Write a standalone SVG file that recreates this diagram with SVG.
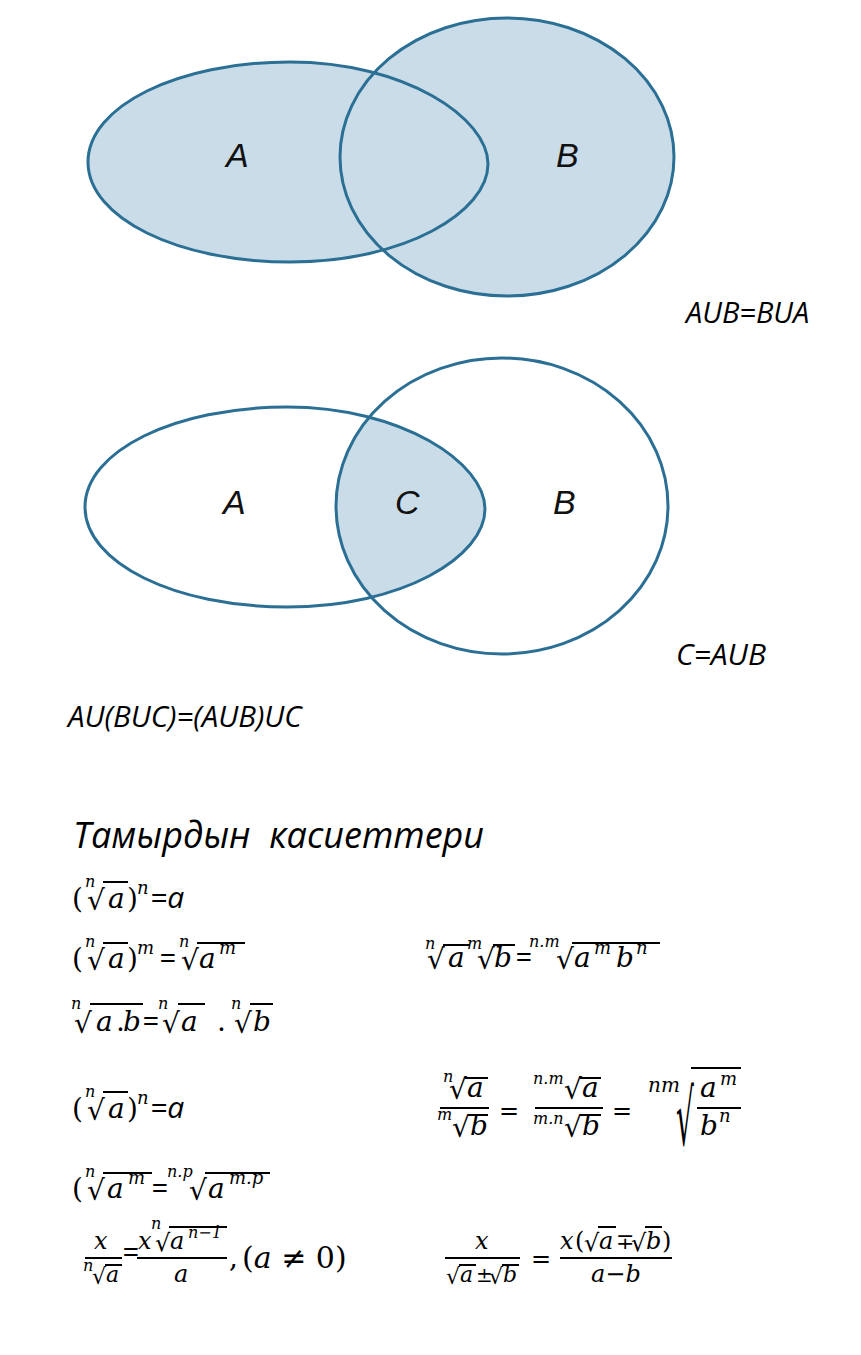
<svg xmlns="http://www.w3.org/2000/svg" width="861" height="1355" viewBox="0 0 861 1355">
<style>
.fill{fill:#c9dce8}
.edge{fill:none;stroke:#2b6f95;stroke-width:3}
.lbl{font-family:"Liberation Sans",Arial,sans-serif;font-style:italic;font-size:34px;fill:#111}
.cap{font-family:"Open Sans","Noto Sans",sans-serif;font-style:italic;font-size:29px;fill:#000}
.title{font-family:"Open Sans","Noto Sans",sans-serif;font-style:italic;font-size:36px;fill:#000;white-space:pre}
.m{font-family:"DejaVu Serif",serif;font-style:italic;font-size:28px;fill:#000}
.n{font-family:"DejaVu Serif",serif;font-size:28px;fill:#000}
.i{font-family:"DejaVu Serif",serif;font-style:italic;font-size:16px;fill:#000}
.s{font-family:"DejaVu Serif",serif;font-style:italic;font-size:18px;fill:#000}
.rt{font-family:"DejaVu Serif",serif;font-size:28px;fill:#000}
.ov{stroke:#000;stroke-width:2}
</style>
<defs>
<clipPath id="clipB2"><ellipse cx="502" cy="506" rx="166" ry="148"/></clipPath>
</defs>
<rect width="861" height="1355" fill="#fff"/>

<!-- Venn 1 -->
<g id="venn1-fills">
<path class="fill" d="M88,162 C88,106 178,62 290,62 C405,62 488,118 488,164 C488,212 405,262 290,262 C178,262 88,218 88,162 Z"/>
<ellipse class="fill" cx="507" cy="157" rx="167" ry="139"/>
</g>
<g id="venn1-A">
<path class="edge" d="M88,162 C88,106 178,62 290,62 C405,62 488,118 488,164 C488,212 405,262 290,262 C178,262 88,218 88,162 Z"/>
<text class="lbl" x="226" y="167">A</text>
</g>
<g id="venn1-B">
<ellipse class="edge" cx="507" cy="157" rx="167" ry="139"/>
<text class="lbl" x="556" y="167">B</text>
</g>
<text class="cap" x="686" y="323">AUB=BUA</text>

<!-- Venn 2 -->
<g id="venn2-C">
<path class="fill" clip-path="url(#clipB2)" d="M85,507 C85,451 175,407 287,407 C402,407 485,463 485,509 C485,557 402,607 287,607 C175,607 85,563 85,507 Z"/>
<text class="lbl" x="395" y="514">C</text>
</g>
<g id="venn2-A">
<path class="edge" d="M85,507 C85,451 175,407 287,407 C402,407 485,463 485,509 C485,557 402,607 287,607 C175,607 85,563 85,507 Z"/>
<text class="lbl" x="223" y="514">A</text>
</g>
<g id="venn2-B">
<ellipse class="edge" cx="502" cy="506" rx="166" ry="148"/>
<text class="lbl" x="553" y="514">B</text>
</g>
<text class="cap" x="676" y="665" style="font-size:30px">C=AUB</text>
<text class="cap" x="68" y="727" style="font-size:29.5px">AU(BUC)=(AUB)UC</text>

<text class="title" x="73" y="848" xml:space="preserve">Тамырдын  касиеттери</text>

<!-- line 1 -->
<g id="f1">
<text class="n" x="72" y="908">(</text>
<text class="i" x="85" y="887">n</text>
<text class="rt" x="87" y="910">√</text>
<line class="ov" x1="103" y1="882" x2="128" y2="882"/>
<text class="m" x="108" y="908">a</text>
<text class="n" x="127" y="908">)</text>
<text class="s" x="137" y="894">n</text>
<text class="cap" x="150" y="908" style="font-size:30px">=a</text>
</g>

<!-- line 2 left -->
<g id="f2">
<text class="n" x="72" y="968">(</text>
<text class="i" x="85" y="947">n</text>
<text class="rt" x="87" y="970">√</text>
<line class="ov" x1="103" y1="943" x2="128" y2="943"/>
<text class="m" x="108" y="968">a</text>
<text class="n" x="127" y="968">)</text>
<text class="s" x="137" y="954">m</text>
<text class="cap" x="159" y="968">=</text>
<text class="i" x="179" y="947">n</text>
<text class="rt" x="181" y="970">√</text>
<line class="ov" x1="197" y1="943" x2="245" y2="943"/>
<text class="m" x="199" y="968">a</text>
<text class="s" x="219" y="954">m</text>
</g>

<!-- line 2 right -->
<g id="f3">
<text class="i" x="425" y="949">n</text>
<text class="rt" x="427" y="969">√</text>
<line class="ov" x1="443" y1="945" x2="470" y2="945"/>
<text class="m" x="448" y="967">a</text>
<text class="i" x="467" y="949">m</text>
<text class="rt" x="477" y="969">√</text>
<line class="ov" x1="493" y1="945" x2="515" y2="945"/>
<text class="m" x="494" y="967">b</text>
<text class="cap" x="515" y="967">=</text>
<text class="i" x="529" y="947">n.m</text>
<text class="rt" x="556" y="969">√</text>
<line class="ov" x1="572" y1="943" x2="660" y2="943"/>
<text class="m" x="574" y="967">a</text>
<text class="s" x="594" y="954">m</text>
<text class="m" x="616" y="967">b</text>
<text class="s" x="636" y="954">n</text>
</g>

<!-- line 3 -->
<g id="f4">
<text class="i" x="71" y="1009">n</text>
<text class="rt" x="74" y="1033">√</text>
<line class="ov" x1="90" y1="1004" x2="143" y2="1004"/>
<text class="m" x="96" y="1031">a</text>
<text class="n" x="116" y="1031">.</text>
<text class="m" x="123" y="1031">b</text>
<text class="cap" x="142" y="1031">=</text>
<text class="i" x="158" y="1009">n</text>
<text class="rt" x="162" y="1033">√</text>
<line class="ov" x1="178" y1="1004" x2="205" y2="1004"/>
<text class="m" x="181" y="1031">a</text>
<text class="n" x="217" y="1031">.</text>
<text class="i" x="231" y="1009">n</text>
<text class="rt" x="234" y="1033">√</text>
<line class="ov" x1="250" y1="1004" x2="273" y2="1004"/>
<text class="m" x="253" y="1031">b</text>
</g>

<!-- line 4 left -->
<g id="f5">
<text class="n" x="72" y="1118">(</text>
<text class="i" x="85" y="1097">n</text>
<text class="rt" x="87" y="1120">√</text>
<line class="ov" x1="103" y1="1092" x2="128" y2="1092"/>
<text class="m" x="108" y="1118">a</text>
<text class="n" x="127" y="1118">)</text>
<text class="s" x="137" y="1104">n</text>
<text class="cap" x="150" y="1118" style="font-size:30px">=a</text>
</g>

<!-- line 4 right -->
<g id="f6">
<text class="i" x="443" y="1082">n</text>
<text class="rt" x="449" y="1099">√</text>
<line class="ov" x1="465" y1="1078" x2="488" y2="1078"/>
<text class="m" x="467" y="1097">a</text>
<line class="ov" x1="440" y1="1108" x2="489" y2="1108"/>
<text class="i" x="437" y="1120">m</text>
<text class="rt" x="452" y="1137">√</text>
<line class="ov" x1="468" y1="1115" x2="488" y2="1115"/>
<text class="m" x="470" y="1135">b</text>
<text class="n" x="499" y="1119" style="font-size:24px">=</text>
<text class="i" x="533" y="1084">n.m</text>
<text class="rt" x="564" y="1099">√</text>
<line class="ov" x1="580" y1="1078" x2="601" y2="1078"/>
<text class="m" x="582" y="1097">a</text>
<line class="ov" x1="535" y1="1108" x2="603" y2="1108"/>
<text class="i" x="533" y="1124">m.n</text>
<text class="rt" x="564" y="1137">√</text>
<line class="ov" x1="580" y1="1115" x2="601" y2="1115"/>
<text class="m" x="582" y="1135">b</text>
<text class="n" x="612" y="1119" style="font-size:24px">=</text>
<text class="i" x="648" y="1092" style="font-size:20px">nm</text>
<text class="rt" transform="translate(676,1145) scale(1,2.75)">√</text>
<line class="ov" x1="691" y1="1068" x2="741" y2="1068"/>
<text class="m" x="700" y="1097">a</text>
<text class="s" x="720" y="1085">m</text>
<line class="ov" x1="697" y1="1108" x2="741" y2="1108"/>
<text class="m" x="700" y="1135">b</text>
<text class="s" x="719" y="1122">n</text>
</g>

<!-- line 5 -->
<g id="f7">
<text class="n" x="72" y="1198">(</text>
<text class="i" x="85" y="1177">n</text>
<text class="rt" x="87" y="1200">√</text>
<line class="ov" x1="103" y1="1173" x2="152" y2="1173"/>
<text class="m" x="107" y="1198">a</text>
<text class="s" x="128" y="1184">m</text>
<text class="cap" x="151" y="1198">=</text>
<text class="i" x="167" y="1177">n.p</text>
<text class="rt" x="189" y="1200">√</text>
<line class="ov" x1="205" y1="1173" x2="270" y2="1173"/>
<text class="m" x="208" y="1198">a</text>
<text class="s" x="229" y="1184">m.p</text>
</g>

<!-- line 6 left -->
<g id="f8">
<text class="m" x="94" y="1249" style="font-size:24px">x</text>
<line class="ov" x1="85" y1="1258" x2="122" y2="1258"/>
<text class="i" x="83" y="1271">n</text>
<text class="rt" x="92" y="1284" style="font-size:22px">√</text>
<line class="ov" x1="105" y1="1265" x2="122" y2="1265"/>
<text class="m" x="106" y="1282" style="font-size:22px">a</text>
<text class="cap" x="122" y="1262">=</text>
<text class="m" x="138" y="1249" style="font-size:24px">x</text>
<text class="i" x="151" y="1229">n</text>
<text class="rt" x="155" y="1251" style="font-size:24px">√</text>
<line class="ov" x1="169" y1="1227" x2="227" y2="1227"/>
<text class="m" x="170" y="1249" style="font-size:24px">a</text>
<text class="s" x="188" y="1238" style="font-size:16px">n−1</text>
<line class="ov" x1="137" y1="1258" x2="227" y2="1258"/>
<text class="m" x="174" y="1282" style="font-size:24px">a</text>
<text class="n" x="229" y="1267">,</text>
<text class="n" x="242" y="1268" style="font-size:30px">(<tspan font-style="italic">a</tspan> ≠ 0)</text>
</g>

<!-- line 6 right -->
<g id="f9">
<text class="m" x="475" y="1249" style="font-size:24px">x</text>
<line class="ov" x1="445" y1="1258" x2="520" y2="1258"/>
<text class="rt" x="446" y="1284" style="font-size:22px">√</text>
<line class="ov" x1="459" y1="1265" x2="476" y2="1265"/>
<text class="m" x="460" y="1282" style="font-size:22px">a</text>
<text class="n" x="476" y="1282" style="font-size:20px">±</text>
<text class="rt" x="489" y="1284" style="font-size:22px">√</text>
<line class="ov" x1="502" y1="1265" x2="519" y2="1265"/>
<text class="m" x="503" y="1282" style="font-size:22px">b</text>
<text class="n" x="531" y="1267" style="font-size:24px">=</text>
<text class="m" x="560" y="1249" style="font-size:24px">x</text>
<text class="n" x="575" y="1249" style="font-size:24px">(</text>
<text class="rt" x="584" y="1251" style="font-size:24px">√</text>
<line class="ov" x1="598" y1="1227" x2="616" y2="1227"/>
<text class="m" x="599" y="1249" style="font-size:24px">a</text>
<text class="n" x="616" y="1249" style="font-size:22px">∓</text>
<text class="rt" x="631" y="1251" style="font-size:24px">√</text>
<line class="ov" x1="645" y1="1227" x2="662" y2="1227"/>
<text class="m" x="646" y="1249" style="font-size:24px">b</text>
<text class="n" x="662" y="1249" style="font-size:24px">)</text>
<line class="ov" x1="560" y1="1258" x2="672" y2="1258"/>
<text class="m" x="591" y="1282" style="font-size:24px">a−b</text>
</g>
</svg>
